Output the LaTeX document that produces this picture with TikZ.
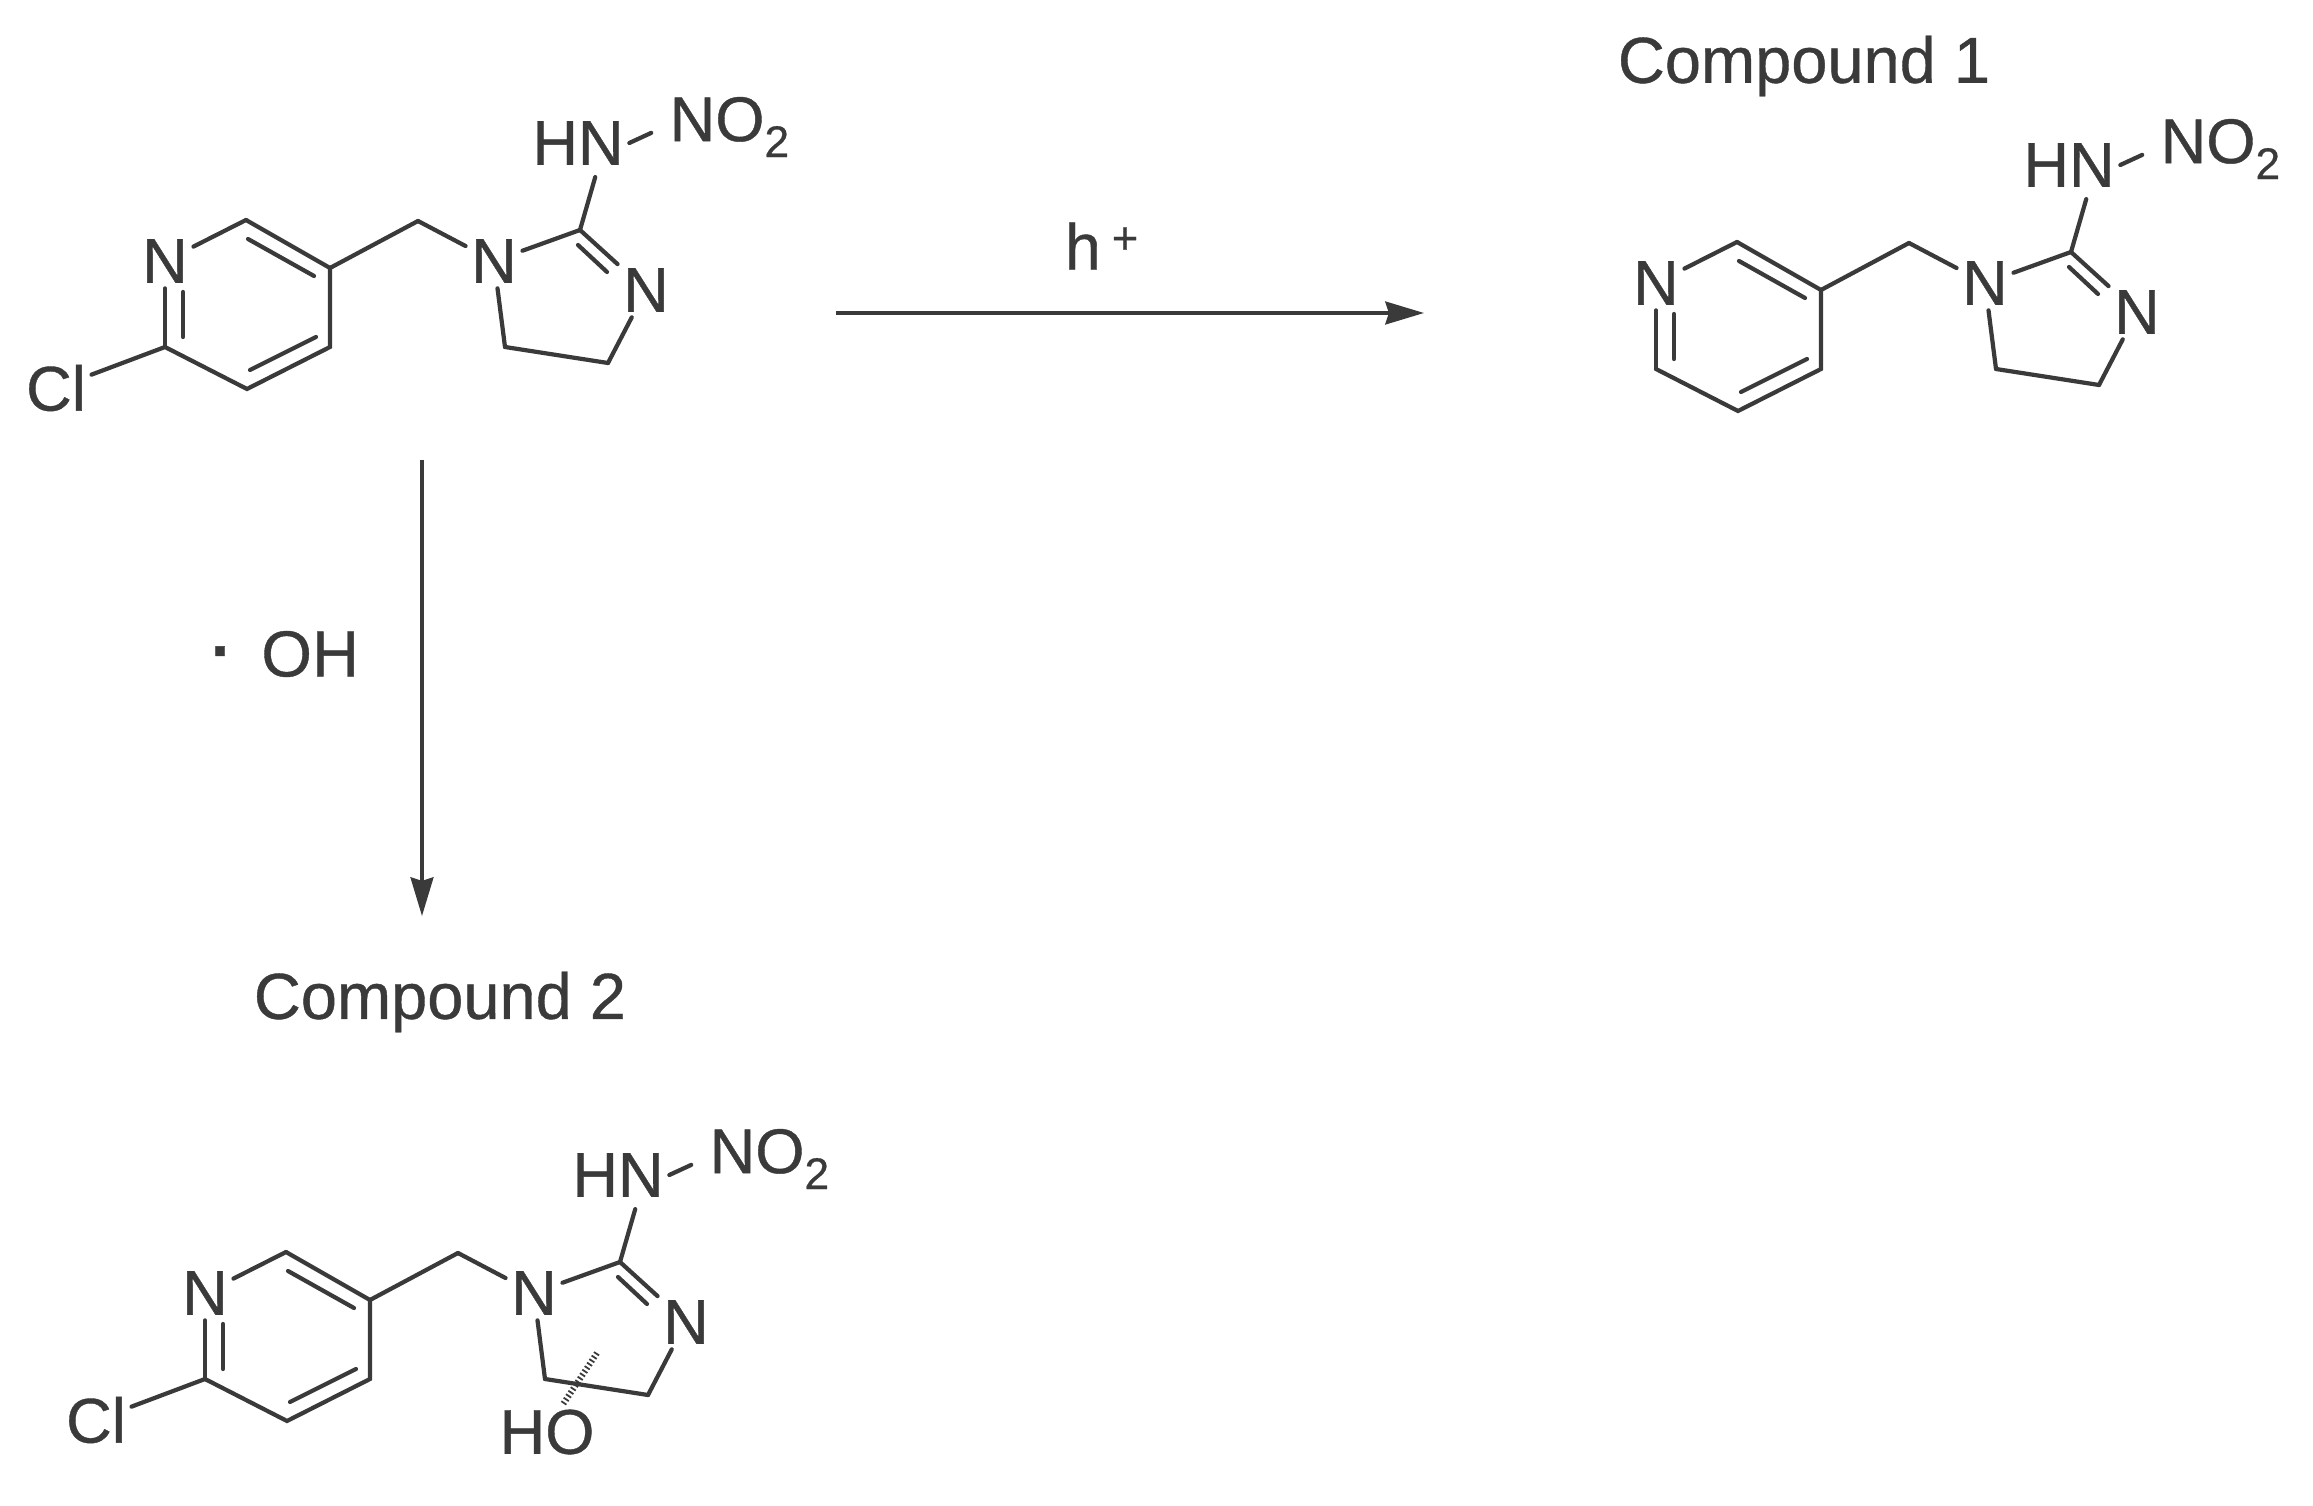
\documentclass[tikz,border=0pt]{standalone}
\usepackage{fontspec}
\setmainfont[RawFeature={embolden=0.6}]{Liberation Sans}
\usetikzlibrary{arrows.meta}
\definecolor{inkgrey}{HTML}{3A3A3A}

\begin{document}
\begin{tikzpicture} [x=0.02cm,y=-0.02cm,>={Stealth[length=22pt,width=13pt,inset=2pt]},
		atom/.style={inkgrey,inner sep=3pt,font=\fontsize{36}{38}\selectfont},
		caption/.style={inkgrey,inner sep=0pt,font=\fontsize{37}{40}\selectfont},
		bond/.style={draw=inkgrey,line width=2.4pt,line cap=round},
		hashbond/.style={draw=inkgrey,line width=3.5pt,dash pattern=on 1pt off 1.4pt},
		reaction/.style={draw=inkgrey,line width=2pt,->}]

	\useasboundingbox (0,0) rectangle (2313,1506);

	% starting compound
	\coordinate (ac2) at (246,220);
	\coordinate (ac3) at (330,268);
	\coordinate (ac4) at (330,347);
	\coordinate (ac5) at (247,389);
	\coordinate (ac6) at (165,347);
	\coordinate (ach) at (418,221);
	\coordinate (acg) at (580,230);
	\coordinate (acf) at (608,363);
	\coordinate (ace) at (505,347);
	\node [atom] (an) at (165,261) {N}
		edge [bond] (ac2)
		edge [bond] (ac6);
	\node [atom] (acl) at (56,388) {Cl}
		edge [bond] (ac6);
	\node [atom] (ana) at (494,261) {N}
		edge [bond] (ach)
		edge [bond] (acg)
		edge [bond] (ace);
	\node [atom] (anb) at (646,290) {N}
		edge [bond] (acg)
		edge [bond] (acf);
	\node [atom] (ahn) at (578,143) {HN};
	\node [atom,anchor=west] (ano) at (664,127) {NO\textsubscript{2}};
	\draw [bond] (ac2) -- (ac3) -- (ac4) -- (ac5) -- (ac6);
	\draw [bond] (ac3) -- (ach);
	\draw [bond] (ace) -- (acf);
	\draw [bond,shorten >=4pt] (acg) -- (ahn.-55);
	\draw [bond,shorten >=8pt] (ahn.east) -- (ano.west);
	\coordinate (ad1) at (248,239);
	\coordinate (ad2) at (314,276);
	\coordinate (ad3) at (316,337);
	\coordinate (ad4) at (250,370);
	\coordinate (ad5) at (183,292);
	\coordinate (ad6) at (183,337);
	\coordinate (ad7) at (578,245);
	\coordinate (ad8) at (607,272);
	\draw [bond] (ad1) -- (ad2);
	\draw [bond] (ad3) -- (ad4);
	\draw [bond] (ad5) -- (ad6);
	\draw [bond] (ad7) -- (ad8);

	% compound 1
	\node [caption] (cap1) at (1804,66) {Compound 1};
	\begin{scope}[shift={(1491,22)}]
		\coordinate (bc2) at (246,220);
		\coordinate (bc3) at (330,268);
		\coordinate (bc4) at (330,347);
		\coordinate (bc5) at (247,389);
		\coordinate (bc6) at (165,347);
		\coordinate (bch) at (418,221);
		\coordinate (bcg) at (580,230);
		\coordinate (bcf) at (608,363);
		\coordinate (bce) at (505,347);
		\node [atom] (bn) at (165,261) {N}
			edge [bond] (bc2)
			edge [bond] (bc6);
		\node [atom] (bna) at (494,261) {N}
			edge [bond] (bch)
			edge [bond] (bcg)
			edge [bond] (bce);
		\node [atom] (bnb) at (646,290) {N}
			edge [bond] (bcg)
			edge [bond] (bcf);
		\node [atom] (bhn) at (578,143) {HN};
		\node [atom,anchor=west] (bno) at (664,127) {NO\textsubscript{2}};
		\draw [bond] (bc2) -- (bc3) -- (bc4) -- (bc5) -- (bc6);
		\draw [bond] (bc3) -- (bch);
		\draw [bond] (bce) -- (bcf);
		\draw [bond,shorten >=4pt] (bcg) -- (bhn.-55);
		\draw [bond,shorten >=8pt] (bhn.east) -- (bno.west);
		\coordinate (bd1) at (248,239);
		\coordinate (bd2) at (314,276);
		\coordinate (bd3) at (316,337);
		\coordinate (bd4) at (250,370);
		\coordinate (bd5) at (183,292);
		\coordinate (bd6) at (183,337);
		\coordinate (bd7) at (578,245);
		\coordinate (bd8) at (607,272);
		\draw [bond] (bd1) -- (bd2);
		\draw [bond] (bd3) -- (bd4);
		\draw [bond] (bd5) -- (bd6);
		\draw [bond] (bd7) -- (bd8);
	\end{scope}

	% compound 2
	\node [caption] (cap2) at (440,1002) {Compound 2};
	\begin{scope}[shift={(40,1032)}]
		\coordinate (cc2) at (246,220);
		\coordinate (cc3) at (330,268);
		\coordinate (cc4) at (330,347);
		\coordinate (cc5) at (247,389);
		\coordinate (cc6) at (165,347);
		\coordinate (cch) at (418,221);
		\coordinate (ccg) at (580,230);
		\coordinate (ccf) at (608,363);
		\coordinate (cce) at (505,347);
		\coordinate (cch1) at (557,321);
		\node [atom] (cn) at (165,261) {N}
			edge [bond] (cc2)
			edge [bond] (cc6);
		\node [atom] (ccl) at (56,388) {Cl}
			edge [bond] (cc6);
		\node [atom] (cna) at (494,261) {N}
			edge [bond] (cch)
			edge [bond] (ccg)
			edge [bond] (cce);
		\node [atom] (cnb) at (646,290) {N}
			edge [bond] (ccg)
			edge [bond] (ccf);
		\node [atom] (chn) at (578,143) {HN};
		\node [atom,anchor=west] (cno) at (664,127) {NO\textsubscript{2}};
		\node [atom] (cho) at (507,400) {HO};
		\draw [bond] (cc2) -- (cc3) -- (cc4) -- (cc5) -- (cc6);
		\draw [bond] (cc3) -- (cch);
		\draw [bond] (cce) -- (ccf);
		\draw [bond,shorten >=4pt] (ccg) -- (chn.-55);
		\draw [bond,shorten >=8pt] (chn.east) -- (cno.west);
		\draw [hashbond] (cch1) -- (cho.60);
		\coordinate (cd1) at (248,239);
		\coordinate (cd2) at (314,276);
		\coordinate (cd3) at (316,337);
		\coordinate (cd4) at (250,370);
		\coordinate (cd5) at (183,292);
		\coordinate (cd6) at (183,337);
		\coordinate (cd7) at (578,245);
		\coordinate (cd8) at (607,272);
		\draw [bond] (cd1) -- (cd2);
		\draw [bond] (cd3) -- (cd4);
		\draw [bond] (cd5) -- (cd6);
		\draw [bond] (cd7) -- (cd8);
	\end{scope}

	% reactions
	\coordinate (ra1) at (836,313);
	\coordinate (ra2) at (1424,313);
	\coordinate (rb1) at (422,460);
	\coordinate (rb2) at (422,916);
	\draw [reaction] (ra1) -- (ra2);
	\draw [reaction] (rb1) -- (rb2);
	\node [caption] (hplus) at (1102,246) {h\,\textsuperscript{+}};
	\node [caption] (ohrad) at (285,654) {\raisebox{2pt}{\textbf{·}}\hspace{6pt} OH};
\end{tikzpicture}
\end{document}
